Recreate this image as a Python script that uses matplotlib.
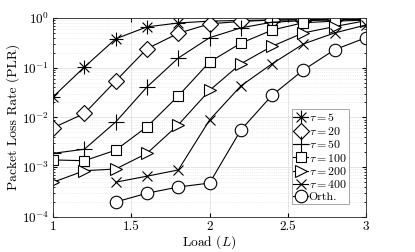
import numpy as np
import matplotlib
matplotlib.use("Agg")
import matplotlib.pyplot as plt
from matplotlib.path import Path
from matplotlib.ticker import LogLocator, NullFormatter

plt.rcParams['font.family'] = 'serif'
plt.rcParams['font.serif'] = ['cmr10', 'DejaVu Serif']
plt.rcParams['mathtext.fontset'] = 'cm'
plt.rcParams['axes.formatter.use_mathtext'] = True

# data
load = [1.0, 1.2, 1.4, 1.6, 1.8, 2.0, 2.2, 2.4, 2.6, 2.8, 3.0]
plr_tau5 = [0.026, 0.103, 0.38, 0.66, 0.79, 0.86, 0.89, 0.91, 0.92, 0.93, 0.94]
plr_tau20 = [0.0062, 0.012, 0.054, 0.24, 0.49, 0.76, 0.85, 0.9, 0.92, 0.93, 0.94]
plr_tau50 = [0.0019, 0.0023, 0.0081, 0.041, 0.156, 0.4, 0.63, 0.82, 0.88, 0.91, 0.93]
plr_tau100 = [0.0014, 0.00135, 0.0022, 0.0065, 0.027, 0.13, 0.31, 0.57, 0.8, 0.86, 0.9]
plr_tau200 = [0.0005, 0.00085, 0.00092, 0.0019, 0.0071, 0.035, 0.12, 0.27, 0.5, 0.67, 0.88]
plr_tau400 = [np.nan, np.nan, 0.0005, 0.00066, 0.00088, 0.0089, 0.043, 0.12, 0.3, 0.5, 0.72]
plr_orth = [np.nan, np.nan, 0.0002, 0.0003, 0.0004, 0.00048, 0.0056, 0.028, 0.09, 0.23, 0.4]
labels = [r'$\tau = 5$', r'$\tau = 20$', r'$\tau = 50$', r'$\tau = 100$',
          r'$\tau = 200$', r'$\tau = 400$', 'Orth.']

# MATLAB-like asterisk (8 arms)
d = 0.7071
asterisk = Path([(-1, 0), (1, 0), (0, -1), (0, 1), (-d, -d), (d, d), (-d, d), (d, -d)],
                [Path.MOVETO, Path.LINETO] * 4)

series = [plr_tau5, plr_tau20, plr_tau50, plr_tau100, plr_tau200, plr_tau400, plr_orth]
markers = [asterisk, 'D', '+', 's', '>', 'x', 'o']
msizes = [10, 8, 11, 7, 9, 7, 9]

fig = plt.figure(figsize=(4.15, 2.52), dpi=100)
ax = fig.add_axes([0.128, 0.139, 0.754, 0.79])

for y, m, ms, lab in zip(series, markers, msizes, labels):
    ax.plot(load, y, color='black', lw=0.8, marker=m, ms=ms, mfc='white',
            mec='black', mew=0.8, label=lab)

ax.set_yscale('log')
ax.set_xlim(1, 3)
ax.set_ylim(1e-4, 1)
ax.set_xticks([1, 1.5, 2, 2.5, 3])
ax.set_xticklabels(['1', '1.5', '2', '2.5', '3'])
ax.yaxis.set_major_locator(LogLocator(base=10, numticks=10))
ax.yaxis.set_minor_locator(LogLocator(base=10, subs=np.arange(2, 10), numticks=10))
ax.yaxis.set_minor_formatter(NullFormatter())

ax.grid(True, which='major', color='0.88', lw=0.6)
ax.grid(True, which='minor', axis='y', color='0.88', lw=0.5, ls=':')
ax.set_axisbelow(True)
ax.tick_params(direction='in', which='both', top=True, right=True, labelsize=9.5)
ax.tick_params(which='major', length=3, pad=3)
ax.tick_params(which='minor', length=1.5)
for s in ax.spines.values():
    s.set_color('0.15')
    s.set_linewidth(0.6)

ax.set_xlabel(r'Load ($L$)', fontsize=9.7, labelpad=0)
ax.set_ylabel('Packet Loss Rate (PLR)', fontsize=9.7, labelpad=1)

leg = ax.legend(loc='lower right', bbox_to_anchor=(0.945, 0.065), fontsize=8.6,
                handlelength=1.2, handletextpad=0.1, labelspacing=0.12,
                borderpad=0.15, borderaxespad=0, fancybox=False, framealpha=1,
                edgecolor='0.6', markerscale=1.0)
leg.get_frame().set_linewidth(0.6)

fig.savefig('out.png', dpi=100)
